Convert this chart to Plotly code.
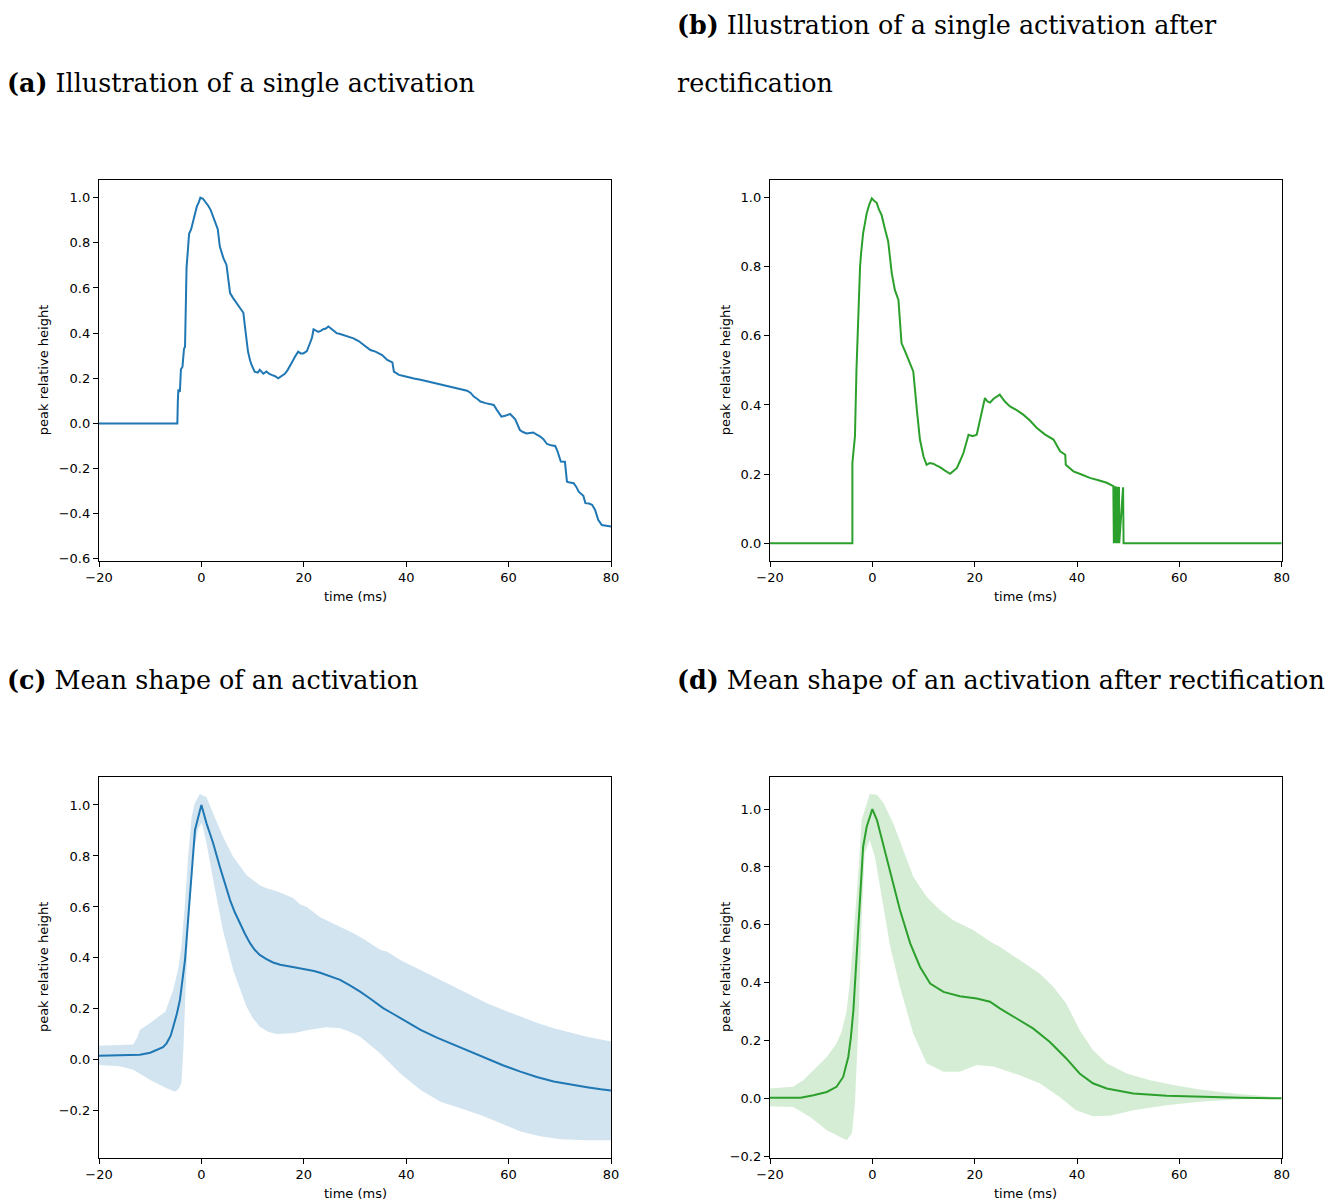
import plotly.graph_objects as go

# ---------------- data ----------------
# (a) single activation
a_t = [-20, -4.7, -4.6, -4.5, -4.2, -4.0, -3.7, -3.4, -3.2, -3.1, -2.9, -2.6, -2.4, -2.0, -1.6, -1.2, -0.9, -0.5, -0.2,
       0.3, 0.8, 1.3, 1.8, 2.3, 2.7, 3.2, 3.6, 4.0, 4.3, 4.9, 5.3, 5.6, 6.2, 6.9, 7.4, 7.9, 8.2, 8.5, 8.8, 9.1, 9.5, 9.8,
       10.4, 11.0, 11.4, 12.1, 12.7, 13.2, 13.7, 14.3, 15.0, 15.6, 16.3, 16.8, 17.3, 17.8, 18.3, 18.9, 19.4, 19.9, 20.3,
       20.6, 21.2, 21.6, 21.9, 22.3, 22.8, 23.3, 23.8, 24.3, 24.8, 25.3, 25.8, 26.4, 27.1, 28.0, 28.8, 29.7, 30.7, 31.7,
       32.3, 33.0, 34.0, 35.3, 36.3, 37.3, 37.6, 38.6, 39.5, 40.2, 41.5, 42.8, 44.5, 46.1, 47.7, 49.3, 50.6, 51.9, 52.6,
       53.2, 53.9, 54.5, 55.5, 56.3, 57.1, 57.7, 58.6, 59.5, 60.3, 61.3, 62.2, 62.8, 63.5, 64.2, 64.8, 65.5, 66.2, 66.8,
       67.5, 68.3, 69.1, 69.5, 70.2, 71.0, 71.4, 72.0, 72.7, 73.2, 73.7, 74.6, 75.0, 75.7, 76.3, 76.9, 77.5, 78.2, 79.0, 80]
a_v = [0, 0, 0.10, 0.15, 0.14, 0.24, 0.25, 0.33, 0.34, 0.53, 0.69, 0.78, 0.84, 0.86, 0.90, 0.93, 0.96, 0.98, 1.0,
       0.995, 0.982, 0.965, 0.946, 0.915, 0.887, 0.86, 0.783, 0.755, 0.732, 0.702, 0.64, 0.577, 0.555, 0.532, 0.515,
       0.495, 0.49, 0.43, 0.384, 0.318, 0.28, 0.259, 0.229, 0.225, 0.237, 0.22, 0.23, 0.22, 0.215, 0.21, 0.20, 0.21,
       0.22, 0.235, 0.252, 0.275, 0.296, 0.318, 0.31, 0.31, 0.316, 0.32, 0.355, 0.38, 0.417, 0.41, 0.405, 0.41, 0.417,
       0.42, 0.429, 0.42, 0.41, 0.40, 0.396, 0.39, 0.385, 0.377, 0.365, 0.348, 0.34, 0.325, 0.318, 0.303, 0.281, 0.27,
       0.229, 0.215, 0.21, 0.205, 0.199, 0.193, 0.184, 0.175, 0.166, 0.156, 0.15, 0.145, 0.135, 0.119, 0.108, 0.097,
       0.09, 0.087, 0.082, 0.06, 0.03, 0.035, 0.042, 0.018, -0.029, -0.038, -0.044, -0.042, -0.04, -0.05, -0.058, -0.07,
       -0.091, -0.097, -0.10, -0.12, -0.169, -0.17, -0.258, -0.262, -0.265, -0.28, -0.302, -0.32, -0.353, -0.355,
       -0.36, -0.383, -0.427, -0.45, -0.452, -0.457]

# (b) single activation after rectification
b_t = [-20, -3.9, -3.9, -3.7, -3.4, -3.1, -2.7, -2.4, -2.2, -1.8, -1.4, -1.1, -0.6, -0.1, 0.4, 0.85, 1.3, 1.8, 2.5,
       3.1, 3.8, 4.4, 5.1, 5.7, 6.4, 7.0, 7.5, 8.0, 8.7, 9.3, 10.0, 10.6, 11.2, 11.9, 12.5, 13.2, 14.2, 15.2, 15.9,
       16.5, 17.2, 17.8, 18.8, 19.6, 20.4, 21.0, 21.5, 22.0, 22.5, 23.0, 23.7, 24.3, 24.9, 25.9, 26.9, 28.2, 29.5,
       30.8, 32.1, 33.7, 35.4, 36.7, 37.7, 37.8, 39.3, 41.0, 42.5, 44.2, 45.8, 47.1, 47.2, 47.45, 47.5, 47.7, 47.75,
       47.95, 48.0, 48.2, 48.25, 49.0, 49.1, 80]
b_v = [0, 0, 0.232, 0.26, 0.309, 0.502, 0.695, 0.80, 0.839, 0.897, 0.93, 0.955, 0.98, 0.998, 0.99, 0.985, 0.965,
       0.95, 0.907, 0.873, 0.781, 0.733, 0.704, 0.579, 0.555, 0.531, 0.515, 0.497, 0.386, 0.30, 0.251, 0.227, 0.232,
       0.23, 0.225, 0.22, 0.21, 0.201, 0.21, 0.217, 0.24, 0.261, 0.314, 0.31, 0.314, 0.353, 0.38, 0.42, 0.41, 0.407,
       0.418, 0.425, 0.43, 0.41, 0.396, 0.385, 0.372, 0.355, 0.334, 0.315, 0.30, 0.266, 0.256, 0.227, 0.208, 0.198,
       0.189, 0.182, 0.175, 0.165, 0, 0.165, 0, 0.164, 0, 0.163, 0, 0.163, 0, 0.162, 0, 0]

# (c) mean shape with spread
c_t = [-20, -16, -12, -10, -8.7, -7.5, -6.8, -6, -5.5, -4.8, -4.2, -3.6, -3.2, -2.6, -1.9, -1.25, -0.6, 0, 1.0, 2.3,
       3.6, 4.6, 5.6, 6.5, 7.5, 8.5, 9.5, 10.4, 11.4, 12.7, 14.0, 15.4, 17.3, 19.3, 20.6, 22.0, 23.2, 25.0, 27.1, 29.0,
       31.0, 33.0, 35.5, 37.5, 39.5, 41.0, 42.8, 46.0, 49.3, 52.5, 55.8, 59, 62.3, 65.5, 68.8, 72, 75.3, 78, 80]
c_mean = [0.016, 0.017, 0.02, 0.028, 0.039, 0.05, 0.065, 0.095, 0.13, 0.18, 0.235, 0.32, 0.392, 0.549, 0.745, 0.902,
          0.954, 1.0, 0.928, 0.85, 0.758, 0.69, 0.627, 0.58, 0.536, 0.495, 0.458, 0.432, 0.412, 0.395, 0.382, 0.373,
          0.366, 0.36, 0.356, 0.349, 0.342, 0.33, 0.314, 0.292, 0.268, 0.24, 0.203, 0.18, 0.157, 0.138, 0.118, 0.087,
          0.059, 0.03, 0.003, -0.022, -0.046, -0.067, -0.085, -0.097, -0.107, -0.115, -0.12]
c_up_t = [-20, -16, -13.3, -12.5, -12, -10, -8.7, -7, -6.8, -5.5, -4.5, -3.9, -3.2, -2.6, -1.9, -1.3, -0.3, 0.5, 1.0,
          2.3, 4.2, 6.2, 8.8, 11.4, 12.7, 15, 17.9, 19.3, 20.6, 23.2, 27.1, 29.7, 32, 35, 36.2, 39, 42.8, 46, 49.3,
          52.5, 55.8, 59, 62.3, 65.5, 68.8, 72, 75.3, 80]
c_up = [0.055, 0.058, 0.06, 0.09, 0.118, 0.145, 0.163, 0.19, 0.203, 0.275, 0.36, 0.444, 0.615, 0.797, 0.954, 1.007,
        1.043, 1.035, 1.03, 0.967, 0.876, 0.797, 0.725, 0.685, 0.673, 0.66, 0.635, 0.61, 0.6, 0.56, 0.523, 0.497, 0.47,
        0.431, 0.425, 0.39, 0.353, 0.32, 0.287, 0.255, 0.222, 0.196, 0.17, 0.146, 0.124, 0.107, 0.091, 0.072]
c_lo_t = [-20, -16, -13.3, -10.1, -6.8, -5.2, -4.5, -3.9, -3.5, -3.2, -2.6, -1.6, -0.6, 0.1, 1.0, 2.3, 4.2, 6.2, 8.8,
          10, 11.4, 13, 14.6, 17.9, 21.1, 24.4, 27.1, 29, 31, 34.9, 38.8, 42.8, 46.7, 50.6, 54.5, 58.4, 62.3, 66.2,
          70.1, 75.3, 80]
c_lo = [-0.02, -0.025, -0.039, -0.078, -0.111, -0.124, -0.115, -0.091, 0.05, 0.222, 0.51, 0.81, 0.909, 0.93, 0.85,
        0.706, 0.51, 0.353, 0.209, 0.165, 0.13, 0.11, 0.102, 0.104, 0.118, 0.128, 0.124, 0.11, 0.091, 0.026, -0.052,
        -0.118, -0.164, -0.19, -0.216, -0.248, -0.281, -0.30, -0.311, -0.315, -0.315]

# (d) mean shape after rectification with spread
d_t = [-20, -14, -11.5, -8.9, -7, -5.7, -4.7, -4.2, -3.7, -3.1, -2.4, -1.8, -1.1, -0.5, 0, 0.9, 2.2, 3.8, 5.4, 7.4,
       9.3, 11.3, 13.9, 17.1, 20.4, 23.0, 24.9, 28.2, 31.4, 34.7, 37.9, 40.5, 43.1, 45.8, 51, 57.5, 64, 72, 80]
d_mean = [0.002, 0.002, 0.011, 0.022, 0.04, 0.074, 0.143, 0.21, 0.305, 0.489, 0.697, 0.87, 0.939, 0.975, 1.0, 0.962,
          0.87, 0.755, 0.651, 0.536, 0.455, 0.397, 0.368, 0.353, 0.345, 0.334, 0.311, 0.276, 0.242, 0.195, 0.138,
          0.086, 0.052, 0.034, 0.017, 0.009, 0.005, 0.002, 0.0]
d_up_t = [-20, -15.5, -13.5, -11.5, -8.9, -7, -6, -5, -4.3, -3.7, -2.7, -2.1, -1.1, -0.5, 0.9, 2.2, 4.1, 6.1, 8,
          10.6, 13.2, 15.8, 19.7, 23.6, 24.9, 28.8, 32.7, 35.4, 37.9, 40.5, 43.1, 45.8, 49.7, 54.3, 58.8, 64, 70.6, 80]
d_up = [0.034, 0.04, 0.063, 0.097, 0.143, 0.19, 0.23, 0.305, 0.42, 0.558, 0.789, 0.962, 1.02, 1.052, 1.05, 1.02,
        0.95, 0.858, 0.766, 0.697, 0.651, 0.616, 0.582, 0.536, 0.524, 0.478, 0.432, 0.385, 0.328, 0.236, 0.167,
        0.121, 0.086, 0.063, 0.046, 0.031, 0.017, 0.003]
d_lo_t = [-20, -15.5, -12.2, -8.9, -6.3, -5, -4, -3.4, -2.7, -2.1, -1.5, -0.5, 0.5, 1.8, 3.5, 5.4, 8, 10.6, 13.9,
          17.1, 20.4, 23.6, 24.9, 28.8, 32.7, 36.6, 39.8, 43.1, 46.4, 51, 57.5, 64, 70.6, 80]
d_lo = [-0.027, -0.03, -0.064, -0.11, -0.133, -0.145, -0.121, -0.018, 0.27, 0.616, 0.847, 0.893, 0.835, 0.697,
        0.524, 0.385, 0.224, 0.121, 0.092, 0.092, 0.115, 0.11, 0.103, 0.08, 0.052, 0.005, -0.041, -0.062, -0.06,
        -0.041, -0.024, -0.012, -0.004, 0]

titles = ["<b>(a)</b> Illustration of a single activation",
          "<b>(b)</b> Illustration of a single activation after",
          "rectification",
          "<b>(c)</b> Mean shape of an activation",
          "<b>(d)</b> Mean shape of an activation after rectification"]
x_label = "time (ms)"
y_label = "peak relative height"

# ---------------- figure ----------------
# The page body has an 8px margin, so the figure is drawn 8px smaller and all
# screen-pixel positions below are shifted by that offset.
OFF = 8
W, H = 1338 - OFF, 1201 - OFF
BLUE = "#1f77b4"
GREEN = "#2ca02c"

fig = go.Figure()

def px(x):
    return (x - OFF) / W

def py(y):
    return 1 - (y - OFF) / H

# panel geometry (screen pixels): left, right, top, bottom
panels = {
    "a": (99, 611, 180, 560.5),
    "b": (770, 1281.7, 180, 560.5),
    "c": (99, 611, 776.7, 1157.5),
    "d": (770, 1281.7, 776.7, 1157.5),
}
yranges = {"a": [-0.607, 1.078], "b": [-0.05, 1.051], "c": [-0.383, 1.111], "d": [-0.2045, 1.112]}

names = ["a", "b", "c", "d"]
for i, k in enumerate(names):
    l, r, t, b = panels[k]
    sfx = "" if i == 0 else str(i + 1)
    fig.update_layout(**{
        "xaxis" + sfx: dict(domain=[px(l), px(r)], anchor="y" + sfx, range=[-20, 80], automargin=False,
                            tickvals=[-20, 0, 20, 40, 60, 80], ticks="outside", ticklen=5, tickwidth=1,
                            tickcolor="black", showline=True, linecolor="black", linewidth=1.3, mirror=True,
                            showgrid=False, zeroline=False,
                            tickfont=dict(family="DejaVu Sans", size=13, color="black")),
        "yaxis" + sfx: dict(domain=[py(b), py(t)], anchor="x" + sfx, range=yranges[k], automargin=False,
                            dtick=0.2, tick0=0, tickformat=".1f", ticks="outside", ticklen=5, tickwidth=1,
                            tickcolor="black", showline=True, linecolor="black", linewidth=1.3, mirror=True,
                            showgrid=False, zeroline=False,
                            tickfont=dict(family="DejaVu Sans", size=13, color="black")),
    })

def band(t_up, up, t_lo, lo, color, ax):
    xs = list(t_up) + list(reversed(t_lo))
    ys = list(up) + list(reversed(lo))
    fig.add_trace(go.Scatter(x=xs, y=ys, fill="toself", fillcolor=color, line=dict(width=0),
                             mode="lines", hoverinfo="skip", showlegend=False, xaxis="x" + ax, yaxis="y" + ax))

fig.add_trace(go.Scatter(x=a_t, y=a_v, mode="lines", line=dict(color=BLUE, width=2), showlegend=False,
                         xaxis="x", yaxis="y"))
fig.add_trace(go.Scatter(x=b_t, y=b_v, mode="lines", line=dict(color=GREEN, width=2), showlegend=False,
                         xaxis="x2", yaxis="y2"))
band(c_up_t, c_up, c_lo_t, c_lo, "rgba(31,119,180,0.2)", "3")
fig.add_trace(go.Scatter(x=c_t, y=c_mean, mode="lines", line=dict(color=BLUE, width=2), showlegend=False,
                         xaxis="x3", yaxis="y3"))
band(d_up_t, d_up, d_lo_t, d_lo, "rgba(44,160,44,0.2)", "4")
fig.add_trace(go.Scatter(x=d_t, y=d_mean, mode="lines", line=dict(color=GREEN, width=2), showlegend=False,
                         xaxis="x4", yaxis="y4"))

ann = []
TF = dict(family="DejaVu Serif", size=25.4, color="black")
title_pos = [(5, 83), (675, 25), (675, 83), (5, 680), (675, 680)]
for txt, (x, y) in zip(titles, title_pos):
    ann.append(dict(text=txt, x=px(x), y=py(y), xref="paper", yref="paper", xanchor="left", yanchor="middle",
                    showarrow=False, font=TF))
LF = dict(family="DejaVu Sans", size=13, color="black")
for k in names:
    l, r, t, b = panels[k]
    ann.append(dict(text=x_label, x=px((l + r) / 2), y=py(b + 36), xref="paper", yref="paper",
                    xanchor="center", yanchor="middle", showarrow=False, font=LF))
    ann.append(dict(text=y_label, x=px(l - 56 if k in ("a", "c") else l - 45), y=py((t + b) / 2),
                    xref="paper", yref="paper", xanchor="center", yanchor="middle", textangle=-90,
                    showarrow=False, font=LF))

fig.update_layout(width=W, height=H, margin=dict(l=0, r=0, t=0, b=0), paper_bgcolor="white",
                  plot_bgcolor="white", annotations=ann, showlegend=False)

fig.write_html("out.html")
